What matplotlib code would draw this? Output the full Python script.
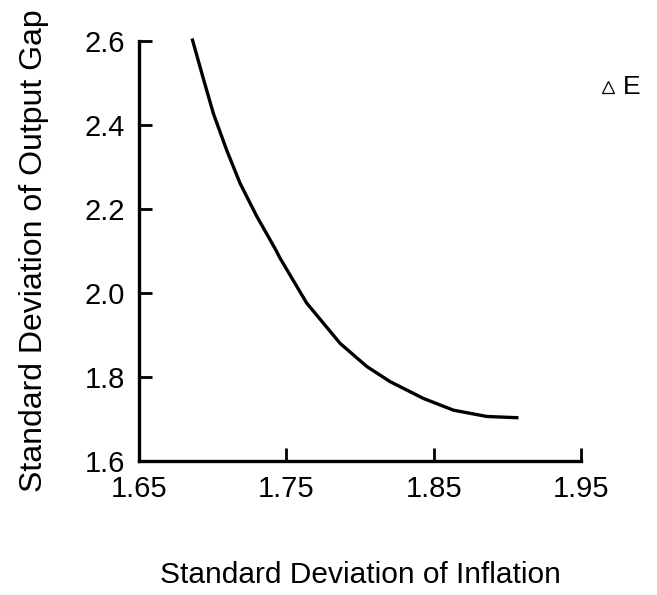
import matplotlib
matplotlib.use('Agg')
import matplotlib.pyplot as plt

plt.rcParams['font.family'] = ['Liberation Sans', 'DejaVu Sans']

# frontier: std dev of inflation vs std dev of output gap
infl = [1.686, 1.694, 1.7005, 1.7095, 1.7186, 1.730, 1.7423, 1.7457, 1.7638,
        1.7865, 1.8046, 1.8204, 1.843, 1.8634, 1.8861, 1.9075]
gap = [2.606, 2.506, 2.427, 2.340, 2.261, 2.182, 2.106, 2.083, 1.976,
       1.880, 1.825, 1.789, 1.749, 1.721, 1.706, 1.703]

# point E
e_infl = [1.968]
e_gap = [2.49]

xticks = [1.65, 1.75, 1.85, 1.95]
xticklabels = ['1.65', '1.75', '1.85', '1.95']
yticks = [1.6, 1.8, 2.0, 2.2, 2.4, 2.6]
yticklabels = ['1.6', '1.8', '2.0', '2.2', '2.4', '2.6']

fig = plt.figure(figsize=(6.57, 5.95), dpi=100)
ax = fig.add_axes([0.2116, 0.2252, 0.6728, 0.7059])

ax.plot(infl, gap, color='black', linewidth=2.4, clip_on=False,
        solid_capstyle='butt')
ax.plot(e_infl, e_gap, marker='^', markersize=9, markerfacecolor='none',
        markeredgecolor='black', markeredgewidth=0.9, linestyle='none', clip_on=False)
ax.annotate('E', (e_infl[0], e_gap[0]), xytext=(11, 0), textcoords='offset points',
            ha='left', va='center', fontsize=19, annotation_clip=False)

ax.set_xlim(1.65, 1.95)
ax.set_ylim(1.6, 2.6)
ax.set_xticks(xticks)
ax.set_xticklabels(xticklabels)
ax.set_yticks(yticks)
ax.set_yticklabels(yticklabels)

for s in ['top', 'right']:
    ax.spines[s].set_visible(False)
for s in ['left', 'bottom']:
    ax.spines[s].set_linewidth(2.4)

ax.tick_params(direction='in', length=9.5, width=2, labelsize=21, pad=10)

ax.set_xlabel('Standard Deviation of Inflation', fontsize=21.5, labelpad=42)
ax.set_ylabel('Standard Deviation of Output Gap', fontsize=23, labelpad=26)

fig.savefig('out.png', dpi=100)
